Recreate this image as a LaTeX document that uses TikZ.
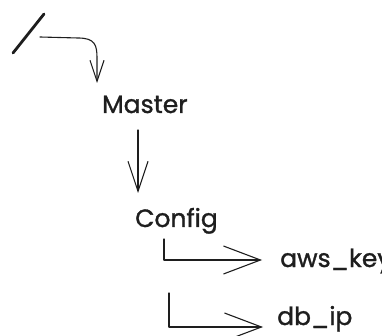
\documentclass[tikz,border=0pt]{standalone}
\usepackage{fontspec}
\setmainfont{Poppins}[FakeBold=1.2]
\usetikzlibrary{arrows.meta,calc}
\definecolor{ink}{HTML}{1E1E1E}
\begin{document}
\begin{tikzpicture}[x=1pt,y=-1pt,
  label/.style={inner sep=0pt, anchor=base west, text=ink,
                font=\fontsize{25}{28}\selectfont},
  link/.style={draw=ink, line width=1.1pt, line cap=round, line join=round},
  smalltip/.style={-{Straight Barb[length=21pt,width=14pt]}},
  midtip/.style={-{Straight Barb[length=30pt,width=20pt]}},
  bigtip/.style={-{Straight Barb[length=37pt,width=28pt]}}]
\useasboundingbox (0,0) rectangle (382,336);

% root marker "/"
\draw[ink, line width=2.8pt, line cap=round] (13,53) -- (44,14);
\coordinate (root) at (28,33);

% tree entries
\node[label] (master) at (102,113) {Master};
\node[label] (config) at (135,227) {Config};
\node[label] (awskey) at (280,267) {aws\_key};
\node[label] (dbip)   at (277,325) {db\_ip};

% root -> Master
\draw[link, smalltip] ([xshift=12pt,yshift=-4pt]root)
  -- ++(38,1) .. controls ++(17,0) and ++(0,-13) .. ++(19,20)
  -- ([xshift=-5pt,yshift=30pt]master.base west);

% Master -> Config
\draw[link, midtip] ([xshift=36pt,yshift=-17pt]master.base west)
  -- ([xshift=3pt,yshift=34pt]config.base west);

% Config -> aws_key
\draw[link, bigtip] ([xshift=29pt,yshift=-12pt]config.base west)
  |- ([xshift=-18pt,yshift=7pt]awskey.base west);

% Config -> db_ip
\draw[link, bigtip] ([xshift=34pt,yshift=-66pt]config.base west)
  |- ([xshift=-14pt,yshift=-2pt]dbip.base west);
\end{tikzpicture}
\end{document}
